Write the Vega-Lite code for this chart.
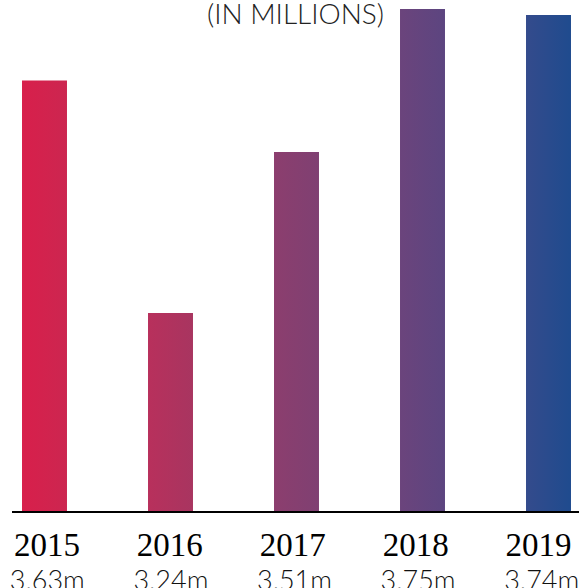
{
  "$schema": "https://vega.github.io/schema/vega-lite/v6.json",
  "width": 567,
  "height": 512,
  "autosize": {"type": "none"},
  "padding": {"left": 12, "top": 0, "right": 0, "bottom": 76},
  "background": "white",
  "config": {"view": {"stroke": null}},
  "title": {
    "text": "(IN MILLIONS)",
    "font": "Lato",
    "fontWeight": 300,
    "fontSize": 28,
    "color": "#222222",
    "anchor": "middle",
    "offset": -30
  },
  "data": {
    "values": [
      {"year": "2015", "label": "3.63m", "value": 3.63},
      {"year": "2016", "label": "3.24m", "value": 3.24},
      {"year": "2017", "label": "3.51m", "value": 3.51},
      {"year": "2018", "label": "3.75m", "value": 3.75},
      {"year": "2019", "label": "3.74m", "value": 3.74}
    ]
  },
  "layer": [
    {
      "mark": {"type": "bar", "clip": false},
      "encoding": {
        "x": {
          "field": "year",
          "type": "nominal",
          "sort": null,
          "scale": {"range": [-30.5, 599.5], "paddingInner": 0.643, "paddingOuter": 0.3215},
          "axis": null
        },
        "y": {
          "field": "value",
          "type": "quantitative",
          "scale": {"domain": [2.906, 3.765], "zero": false, "nice": false},
          "axis": null
        },
        "y2": {"datum": 2.906},
        "fill": {
          "condition": [
            {"test": "datum.year == '2015'", "value": {"gradient": "linear", "x1": 0, "y1": 0, "x2": 1, "y2": 0, "stops": [{"offset": 0, "color": "#d81f4b"}, {"offset": 1, "color": "#cc2650"}]}},
            {"test": "datum.year == '2016'", "value": {"gradient": "linear", "x1": 0, "y1": 0, "x2": 1, "y2": 0, "stops": [{"offset": 0, "color": "#b8305c"}, {"offset": 1, "color": "#a83560"}]}},
            {"test": "datum.year == '2017'", "value": {"gradient": "linear", "x1": 0, "y1": 0, "x2": 1, "y2": 0, "stops": [{"offset": 0, "color": "#8c3e6e"}, {"offset": 1, "color": "#7f4072"}]}},
            {"test": "datum.year == '2018'", "value": {"gradient": "linear", "x1": 0, "y1": 0, "x2": 1, "y2": 0, "stops": [{"offset": 0, "color": "#6b447c"}, {"offset": 1, "color": "#5c4580"}]}}
          ],
          "value": {"gradient": "linear", "x1": 0, "y1": 0, "x2": 1, "y2": 0, "stops": [{"offset": 0, "color": "#344b8c"}, {"offset": 1, "color": "#1f4b8e"}]}
        }
      }
    },
    {
      "mark": {"type": "point", "opacity": 0},
      "encoding": {
        "x": {
          "field": "year",
          "type": "nominal",
          "sort": null,
          "scale": {"range": [-27, 587.5], "paddingInner": 0, "paddingOuter": 0},
          "axis": {
            "orient": "bottom",
            "title": null,
            "domain": false,
            "ticks": false,
            "labelAngle": 0,
            "labelFont": "Liberation Serif",
            "labelFontSize": 33,
            "labelColor": "#000000",
            "labelPadding": 17,
            "labelOverlap": false,
            "labelBound": false,
            "labelFlush": false,
            "zindex": 1
          }
        }
      }
    },
    {
      "mark": {"type": "point", "opacity": 0},
      "encoding": {
        "x": {
          "field": "label",
          "type": "nominal",
          "sort": null,
          "scale": {"range": [-27, 591], "paddingInner": 0, "paddingOuter": 0},
          "axis": {
            "orient": "bottom",
            "title": null,
            "domain": false,
            "ticks": false,
            "labelAngle": 0,
            "labelFont": "Lato",
            "labelFontWeight": 300,
            "labelFontSize": 27,
            "labelColor": "#111111",
            "labelPadding": 56,
            "labelOverlap": false,
            "labelBound": false,
            "labelFlush": false,
            "zindex": 1
          }
        }
      }
    },
    {
      "mark": {"type": "rule", "color": "#000000", "strokeWidth": 2},
      "encoding": {"y": {"datum": 2.906, "type": "quantitative"}}
    }
  ],
  "resolve": {"scale": {"x": "independent"}, "axis": {"x": "independent"}}
}
